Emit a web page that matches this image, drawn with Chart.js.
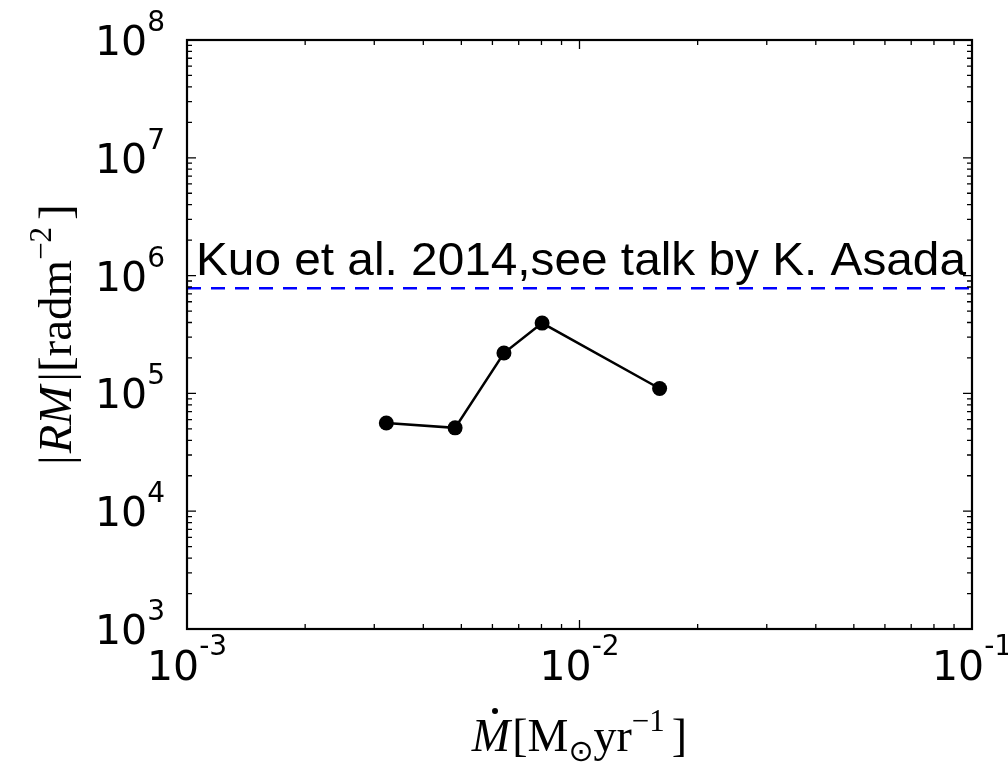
<!DOCTYPE html>
<html>
<head>
<meta charset="utf-8">
<script src="https://cdn.jsdelivr.net/npm/chart.js@4"></script>
<style>
  body { margin: 0; background: #fff; }
  canvas { display: block; }
</style>
</head>
<body>
<canvas id="rmChart" width="1008" height="763"></canvas>
<script>
// accretion rate (Msun/yr) vs |RM| (rad m^-2)
const mdot = [3.22e-3, 4.82e-3, 6.42e-3, 8.03e-3, 1.60e-2];
const rm = [5.6e4, 5.1e4, 2.2e5, 3.95e5, 1.1e5];

// Kuo et al. 2014 level, drawn across the whole x range
const kuoX = [1e-3, 1e-1];
const kuoRm = 7.8e5;
const kuoLabel = 'Kuo et al. 2014,see talk by K. Asada';

// decades used for tick labels
const xDecades = [-3, -2, -1];
const yDecades = [3, 4, 5, 6, 7, 8];

// draws a list of text pieces one after the other (for super/subscripts)
function drawRuns(ctx, runs, x, y, align) {
    let total = 0;
    runs.forEach((r) => {
        ctx.font = r.font;
        r.w = ctx.measureText(r.text).width;
        total += r.w + (r.gap || 0);
    });
    let cx = x;
    if (align === 'center') cx = x - total / 2;
    if (align === 'right') cx = x - total;
    runs.forEach((r) => {
        ctx.font = r.font;
        ctx.fillText(r.text, cx, y + (r.dy || 0));
        if (r.dot) {
            ctx.beginPath();
            ctx.arc(cx + r.w / 2 + 4, y - 40, 3, 0, Math.PI * 2);
            ctx.fill();
        }
        cx += r.w + (r.gap || 0);
    });
}

const mplFrame = {
    id: 'mplFrame',
    afterDraw(chart) {
        const ctx = chart.ctx;
        const area = chart.chartArea;
        const xs = chart.scales.x;
        const ys = chart.scales.y;
        ctx.save();
        ctx.fillStyle = '#000';
        ctx.strokeStyle = '#000';
        ctx.textBaseline = 'alphabetic';

        // inward ticks on all four sides
        ctx.lineWidth = 1.3;
        ctx.beginPath();
        for (let e = -3; e <= -1; e++) {
            for (let m = 1; m <= 9; m++) {
                const v = m * Math.pow(10, e);
                if (v > 0.1 * 1.0001) break;
                const px = xs.getPixelForValue(v);
                const len = m === 1 ? 9 : 5;
                ctx.moveTo(px, area.bottom); ctx.lineTo(px, area.bottom - len);
                ctx.moveTo(px, area.top); ctx.lineTo(px, area.top + len);
            }
        }
        for (let e = 3; e <= 8; e++) {
            for (let m = 1; m <= 9; m++) {
                const v = m * Math.pow(10, e);
                if (v > 1e8 * 1.0001) break;
                const py = ys.getPixelForValue(v);
                const len = m === 1 ? 9 : 5;
                ctx.moveTo(area.left, py); ctx.lineTo(area.left + len, py);
                ctx.moveTo(area.right, py); ctx.lineTo(area.right - len, py);
            }
        }
        ctx.stroke();

        // frame
        ctx.lineWidth = 2.2;
        ctx.strokeRect(area.left, area.top, area.right - area.left, area.bottom - area.top);

        // tick labels
        yDecades.forEach((e) => {
            const py = ys.getPixelForValue(Math.pow(10, e));
            drawRuns(ctx, [
                { text: '10', font: '41px "DejaVu Sans"' },
                { text: String(e), font: '28px "DejaVu Sans"', dy: -24 }
            ], area.left - 22, py + 15, 'right');
        });
        xDecades.forEach((e) => {
            const px = xs.getPixelForValue(Math.pow(10, e));
            drawRuns(ctx, [
                { text: '10', font: '41px "DejaVu Sans"' },
                { text: '-' + Math.abs(e), font: '28px "DejaVu Sans"', dy: -25 }
            ], px, area.bottom + 51, 'center');
        });

        // axis titles
        const serif = '"Liberation Serif"';
        drawRuns(ctx, [
            { text: 'M', font: 'italic 46px ' + serif, dot: true, gap: 2 },
            { text: '[M', font: '46px ' + serif },
            { text: '\u2299', font: '30px "DejaVu Sans"', dy: 10 },
            { text: 'yr', font: '46px ' + serif },
            { text: '\u22121', font: '31px ' + serif, dy: -20, gap: 7 },
            { text: ']', font: '46px ' + serif }
        ], (area.left + area.right) / 2, 751, 'center');

        ctx.save();
        ctx.translate(71, (area.top + area.bottom) / 2);
        ctx.rotate(-Math.PI / 2);
        drawRuns(ctx, [
            { text: '|', font: '47px ' + serif, gap: 2 },
            { text: 'RM', font: 'italic 47px ' + serif, gap: 4 },
            { text: '|[radm', font: '47px ' + serif },
            { text: '\u22122', font: '31px ' + serif, dy: -20, gap: 7 },
            { text: ']', font: '47px ' + serif }
        ], 0, 0, 'center');
        ctx.restore();

        // annotation above the dashed line
        const ky = ys.getPixelForValue(kuoRm) - 13;
        ctx.font = '46px "Liberation Sans"';
        const tw = ctx.measureText(kuoLabel).width;
        const stretch = 770 / tw;
        ctx.save();
        ctx.translate(area.left + 9, ky);
        ctx.scale(stretch, 1);
        ctx.fillText(kuoLabel, 0, 0);
        ctx.restore();

        ctx.restore();
    }
};

const ctx = document.getElementById('rmChart').getContext('2d');
const chart = new Chart(ctx, {
    type: 'line',
    data: {
        datasets: [{
            label: 'Kuo et al. 2014',
            data: kuoX.map((x) => ({ x: x, y: kuoRm })),
            borderColor: '#0000ff',
            borderWidth: 2.5,
            borderDash: [14, 10],
            pointRadius: 0,
            fill: false
        }, {
            label: 'RM',
            data: mdot.map((x, i) => ({ x: x, y: rm[i] })),
            borderColor: '#000',
            backgroundColor: '#000',
            borderWidth: 2.5,
            pointRadius: 7.5,
            pointBorderWidth: 0,
            fill: false
        }]
    },
    options: {
        responsive: false,
        animation: false,
        layout: { padding: { left: 187, right: 36, top: 40, bottom: 134 } },
        plugins: {
            legend: { display: false },
            tooltip: { enabled: false }
        },
        scales: {
            x: { type: 'logarithmic', min: 1e-3, max: 1e-1, display: false },
            y: { type: 'logarithmic', min: 1e3, max: 1e8, display: false }
        }
    },
    plugins: [mplFrame]
});
</script>
</body>
</html>
